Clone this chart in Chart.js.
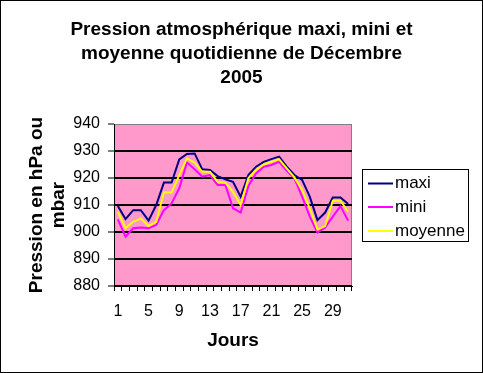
<!DOCTYPE html>
<html><head><meta charset="utf-8">
<script src="https://cdn.jsdelivr.net/npm/chart.js@4/dist/chart.umd.min.js"></script>
<style>html,body{margin:0;padding:0;background:#fff}#wrap{width:483px;height:373px;position:relative}</style>
</head><body><div id="wrap"><canvas id="c" width="483" height="373"></canvas></div>
<script>
const days = ['1','2','3','4','5','6','7','8','9','10','11','12','13','14','15','16','17','18','19','20','21','22','23','24','25','26','27','28','29','30','31'];
const maxi = [909.6, 904.8, 908.1, 908.1, 904.2, 910, 918.3, 918.3, 926.9, 928.9, 929.1, 923.2, 923, 920.7, 919.5, 918.6, 913.1, 921.1, 924.2, 926, 927, 927.9, 924.2, 921.1, 919.3, 913.1, 904.4, 907.2, 912.8, 912.8, 910.4];
const mini = [904.7, 898.3, 901.4, 901.7, 901.4, 902.6, 908.1, 910.6, 916.2, 925.7, 923.2, 920.5, 921.1, 917.4, 917.4, 908.8, 907.2, 917, 921.7, 924.2, 924.8, 926, 922.7, 919.9, 913.1, 905.7, 899.8, 901.7, 905.7, 909.6, 904.2];
const moyenne = [907.5, 901.4, 903.8, 905, 902.2, 903.8, 914.6, 914.6, 921.1, 927.3, 925.7, 922.3, 922.3, 918.6, 918.3, 914.9, 910, 919.9, 923, 925, 926, 927, 923.6, 920.2, 915.6, 908.8, 901, 902.2, 911.6, 911.6, 907.5];
const seriesNames = ['maxi', 'mini', 'moyenne'];
const titleLines = ['Pression atmosphérique maxi, mini et', 'moyenne quotidienne de Décembre', '2005'];
const yTitle = ['Pression en hPa ou', 'mbar'];
const xTitle = 'Jours';

const FONT = "'Liberation Sans', Arial, sans-serif";

const bgPlugin = {
  id: 'bg',
  beforeDraw(chart) {
    const {ctx, chartArea: a} = chart;
    ctx.save();
    ctx.fillStyle = '#fff';
    ctx.fillRect(0, 0, chart.width, chart.height);
    ctx.fillStyle = '#FF99CC';
    ctx.fillRect(a.left, a.top, a.right - a.left, a.bottom - a.top);
    ctx.strokeStyle = '#808080';
    ctx.lineWidth = 1;
    ctx.strokeRect(a.left + 0.5, a.top + 0.5, a.right - a.left - 1, a.bottom - a.top);
    ctx.restore();
  },
  afterDraw(chart) {
    const ctx = chart.ctx;
    ctx.save();
    ctx.strokeStyle = '#000';
    ctx.lineWidth = 1;
    ctx.strokeRect(0.5, 0.5, chart.width - 1, chart.height - 1);
    // legend
    const lx = 362, ly = 169, lw = 106, lh = 72;
    ctx.fillStyle = '#fff';
    ctx.fillRect(lx, ly, lw, lh);
    ctx.strokeRect(lx + 0.5, ly + 0.5, lw, lh);
    ctx.font = '17px ' + FONT;
    ctx.textBaseline = 'middle';
    ctx.textAlign = 'left';
    const rows = [183.5, 207, 231];
    chart.data.datasets.forEach((ds, i) => {
      ctx.strokeStyle = ds.borderColor;
      ctx.lineWidth = 2;
      ctx.beginPath();
      ctx.moveTo(368, rows[i]);
      ctx.lineTo(393, rows[i]);
      ctx.stroke();
      ctx.fillStyle = '#000';
      ctx.fillText(ds.label, 395, rows[i]);
    });
    ctx.restore();
  }
};

new Chart(document.getElementById('c'), {
  type: 'line',
  data: {
    labels: days,
    datasets: [
      {label: seriesNames[0], data: maxi, borderColor: '#000080', order: 3},
      {label: seriesNames[1], data: mini, borderColor: '#FF00FF', order: 2},
      {label: seriesNames[2], data: moyenne, borderColor: '#FFFF00', order: 1}
    ]
  },
  options: {
    responsive: false,
    animation: false,
    devicePixelRatio: 1,
    elements: {
      line: {borderWidth: 2, tension: 0, fill: false},
      point: {radius: 0, hoverRadius: 0}
    },
    layout: {padding: {left: 0, top: 0, right: 0, bottom: 17}},
    plugins: {
      legend: {display: false},
      tooltip: {enabled: false},
      title: {
        display: true,
        text: titleLines,
        color: '#000',
        font: {family: FONT, size: 19, weight: 'bold', lineHeight: 24/19},
        padding: {top: 18, bottom: 34}
      }
    },
    scales: {
      x: {
        type: 'category',
        offset: true,
        afterFit(s) { s.height = 70; },
        grid: {offset: true, drawOnChartArea: false, drawTicks: true, tickLength: 5, tickColor: '#000', tickWidth: 1},
        border: {display: true, color: '#000', width: 1},
        ticks: {
          autoSkip: false, maxRotation: 0, color: '#000', padding: 11,
          font: {family: FONT, size: 16},
          callback(v, i) { return i % 4 === 0 ? this.getLabelForValue(v) : ''; }
        },
        title: {display: true, text: xTitle, color: '#000', font: {family: FONT, size: 19, weight: 'bold', lineHeight: 1.2}, padding: {top: 0, bottom: 4}}
      },
      y: {
        min: 880, max: 940,
        afterFit(s) { s.width = 114; },
        grid: {
          color: (c) => (c.tick && c.tick.value === 940) ? 'rgba(0,0,0,0)' : '#000',
          lineWidth: 2, drawTicks: true, tickLength: 6, tickColor: '#000', tickWidth: 1
        },
        border: {display: true, color: '#000', width: 1},
        ticks: {stepSize: 10, color: '#000', padding: 8, font: {family: FONT, size: 16}},
        title: {display: true, text: yTitle, color: '#000', font: {family: FONT, size: 19, weight: 'bold', lineHeight: 22/19}, padding: {top: 26, bottom: 0}}
      },
      side: {
        type: 'linear',
        position: 'right',
        display: true,
        afterFit(s) { s.width = 131; },
        grid: {display: false, drawTicks: false},
        border: {display: false},
        ticks: {display: false}
      }
    }
  },
  plugins: [bgPlugin]
});
</script></body></html>
